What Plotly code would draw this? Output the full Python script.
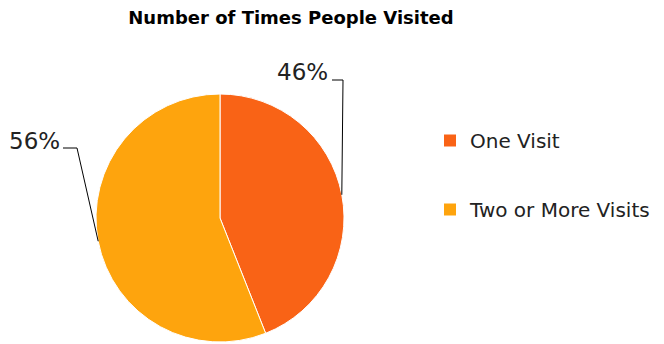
import math
import plotly.graph_objects as go

categories = ["One Visit", "Two or More Visits"]
values = [44, 56]                 # slice sizes as drawn
value_labels = ["46%", "56%"]     # label texts as printed on the chart
colors = ["#F96316", "#FEA40D"]
title_text = "Number of Times People Visited"

W, H = 664, 344
cx, cy, r = 220, 218, 124  # pie centre/radius in pixels
FONT = "DejaVu Sans"

fig = go.Figure()
fig.add_trace(go.Pie(
    labels=categories, values=values, sort=False, direction="clockwise", rotation=0,
    marker=dict(colors=colors, line=dict(color="white", width=1)),
    textinfo="none", hoverinfo="label+value", showlegend=False,
    domain=dict(x=[(cx - r) / W, (cx + r) / W], y=[1 - (cy + r) / H, 1 - (cy - r) / H]),
))

for i, (c, col) in enumerate(zip(categories, colors)):
    fig.add_trace(go.Scatter(x=[None], y=[None], mode="markers", name=c,
                             marker=dict(symbol="square", size=12, color=col),
                             legendgroup=f"g{i}", showlegend=True))

# labels with leader lines, anchored to slice mid-angles
label_pos = [(302, 72), (34, 141)]
elbow = [(343, 80), (77, 148)]
ends = [(332, 80), (63, 148)]
total = sum(values)
start = 0.0
for i, v in enumerate(values):
    frac = v / total
    mid = (start + frac / 2) * 2 * math.pi
    start += frac
    ex = cx + r * math.sin(mid)
    ey = cy - r * math.cos(mid)
    pts = [(ex, ey), elbow[i], ends[i]]
    path = "M " + " L ".join(f"{px / W},{1 - py / H}" for px, py in pts)
    fig.add_shape(type="path", path=path, xref="paper", yref="paper",
                  line=dict(color="black", width=1))
    lx, ly = label_pos[i]
    fig.add_annotation(x=lx / W, y=1 - ly / H, xref="paper", yref="paper",
                       text=value_labels[i], showarrow=False, xanchor="center", yanchor="middle",
                       font=dict(family=FONT, size=23, color="#222"))

fig.update_layout(
    width=W, height=H,
    margin=dict(l=0, r=0, t=0, b=0),
    paper_bgcolor="white", plot_bgcolor="white",
    title=dict(text=f"<b>{title_text}</b>", x=291 / W, xanchor="center", y=1 - 18 / H,
               yanchor="middle", font=dict(family=FONT, size=18, color="black")),
    xaxis=dict(visible=False), yaxis=dict(visible=False),
    legend=dict(x=430 / W, y=1 - 121 / H, xanchor="left", yanchor="top",
                traceorder="grouped", tracegroupgap=40,
                font=dict(family=FONT, size=20, color="#222"),
                itemwidth=30, bgcolor="rgba(0,0,0,0)"),
)

fig.write_html("out.html", config={"displayModeBar": False},
               post_script="document.body.style.margin='0';")
